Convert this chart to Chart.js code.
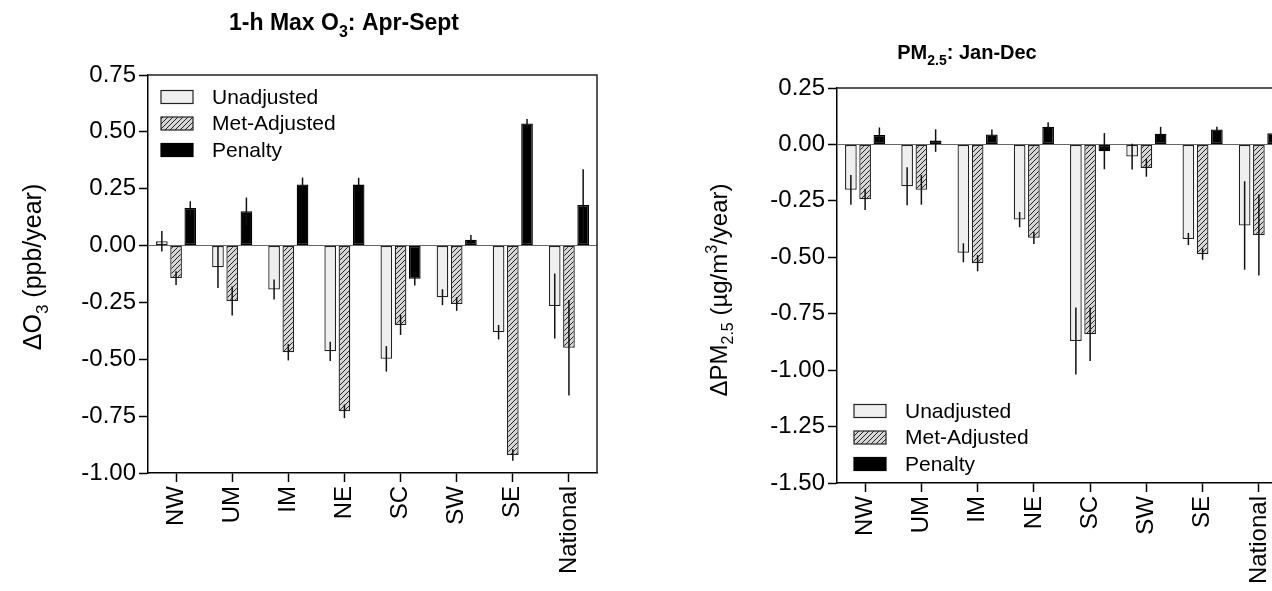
<!DOCTYPE html>
<html lang="en">
<head>
  <meta charset="UTF-8" />
  <title>O3 and PM2.5 trends by region</title>
  <script src="https://cdn.jsdelivr.net/npm/chart.js@4.4.0/dist/chart.umd.min.js"></script>
  <style>
    body {
      margin: 0;
      width: 1272px;
      height: 591px;
      overflow: hidden;
      position: relative;
      background: #fff;
    }
    .panel { position: absolute; top: 0; }
    #o3Panel { left: 0; }
    #pmPanel { left: 680px; }
  </style>
</head>
<body>
  <div class="panel" id="o3Panel"><canvas id="o3Chart" width="640" height="591"></canvas></div>
  <div class="panel" id="pmPanel"><canvas id="pmChart" width="700" height="591"></canvas></div>

  <script>
    const regions = ["NW", "UM", "IM", "NE", "SC", "SW", "SE", "National"];
    const seriesNames = ["Unadjusted", "Met-Adjusted", "Penalty"];

    // 1-h max O3, Apr-Sept (ppb/year)
    const o3Unadj    = [0.019, -0.095, -0.193, -0.465, -0.498, -0.227, -0.381, -0.266];
    const o3UnadjErr = [0.045, 0.092, 0.044, 0.042, 0.056, 0.035, 0.032, 0.143];
    const o3Met      = [-0.143, -0.244, -0.469, -0.729, -0.349, -0.257, -0.921, -0.449];
    const o3MetErr   = [0.030, 0.064, 0.036, 0.030, 0.044, 0.030, 0.025, 0.210];
    const o3Pen      = [0.165, 0.151, 0.269, 0.268, -0.146, 0.026, 0.537, 0.178];
    const o3PenErr   = [0.030, 0.060, 0.030, 0.030, 0.030, 0.020, 0.020, 0.158];

    // PM2.5, Jan-Dec (ug/m3/year)
    const pmUnadj    = [-0.201, -0.185, -0.480, -0.333, -0.871, -0.054, -0.419, -0.359];
    const pmUnadjErr = [0.066, 0.084, 0.042, 0.034, 0.148, 0.057, 0.027, 0.196];
    const pmMet      = [-0.243, -0.201, -0.526, -0.414, -0.841, -0.104, -0.486, -0.401];
    const pmMetErr   = [0.047, 0.066, 0.036, 0.027, 0.118, 0.039, 0.025, 0.180];
    const pmPen      = [0.042, 0.017, 0.044, 0.078, -0.030, 0.047, 0.066, 0.050];
    const pmPenErr   = [0.033, 0.050, 0.022, 0.020, 0.080, 0.031, 0.012, 0.020];

    const FONT = '"Liberation Sans", Arial, sans-serif';

    // diagonal hatch for the met-adjusted bars
    function hatch() {
      const c = document.createElement("canvas");
      c.width = 5; c.height = 5;
      const g = c.getContext("2d");
      g.fillStyle = "#d6d6d6";
      g.fillRect(0, 0, 5, 5);
      g.strokeStyle = "#222";
      g.lineWidth = 1;
      g.beginPath();
      g.moveTo(-1, 6); g.lineTo(6, -1);
      g.moveTo(-3.5, 3.5); g.lineTo(3.5, -3.5);
      g.moveTo(1.5, 8.5); g.lineTo(8.5, 1.5);
      g.stroke();
      return g.createPattern(c, "repeat");
    }

    function drawRich(ctx, parts, x, y, size, bold, rotate) {
      const w = bold ? "bold " : "";
      const big = w + size + "px " + FONT;
      const small = w + Math.round(size * 0.68) + "px " + FONT;
      let total = 0;
      parts.forEach(p => { ctx.font = p[1] ? small : big; total += ctx.measureText(p[0]).width; });
      ctx.save();
      ctx.translate(x, y);
      if (rotate) ctx.rotate(-Math.PI / 2);
      ctx.fillStyle = "#000";
      ctx.textAlign = "left";
      ctx.textBaseline = "alphabetic";
      let cx = -total / 2;
      const base = size * 0.36;
      parts.forEach(p => {
        ctx.font = p[1] ? small : big;
        const dy = p[1] === "sub" ? size * 0.28 : p[1] === "sup" ? -size * 0.42 : 0;
        ctx.fillText(p[0], cx, base + dy);
        cx += ctx.measureText(p[0]).width;
      });
      ctx.restore();
    }

    // titles and axis titles, canvas coordinates
    const texts = {
      o3Chart: [
        { parts: [["1-h Max O"], ["3", "sub"], [": Apr-Sept"]], x: 344, y: 22, size: 23, bold: true },
        { parts: [["\u0394O"], ["3", "sub"], [" (ppb/year)"]], x: 32, y: 267, size: 25, rotate: true }
      ],
      pmChart: [
        { parts: [["PM"], ["2.5", "sub"], [": Jan-Dec"]], x: 287, y: 52, size: 20, bold: true },
        { parts: [["\u0394PM"], ["2.5", "sub"], [" (\u00b5g/m"], ["3", "sup"], ["/year)"]], x: 38, y: 290, size: 24, rotate: true }
      ]
    };

    const frame = {
      id: "frame",
      afterDraw(chart) {
        const { ctx, chartArea: a } = chart;
        ctx.save();
        ctx.strokeStyle = "#222";
        ctx.lineWidth = 1.5;
        ctx.beginPath();
        ctx.moveTo(a.left, a.top);
        ctx.lineTo(a.right, a.top);
        ctx.lineTo(a.right, a.bottom);
        ctx.stroke();
        ctx.restore();
        (texts[chart.canvas.id] || []).forEach(t =>
          drawRich(ctx, t.parts, t.x, t.y, t.size, t.bold, t.rotate));
      }
    };

    const errorBars = {
      id: "errorBars",
      afterDatasetsDraw(chart) {
        const { ctx } = chart;
        const y = chart.scales.y;
        ctx.save();
        ctx.strokeStyle = "#111";
        ctx.lineWidth = 1.5;
        chart.data.datasets.forEach((ds, i) => {
          chart.getDatasetMeta(i).data.forEach((bar, j) => {
            const v = ds.data[j], e = ds.errors[j];
            ctx.beginPath();
            ctx.moveTo(bar.x, y.getPixelForValue(v + e));
            ctx.lineTo(bar.x, y.getPixelForValue(v - e));
            ctx.stroke();
          });
        });
        ctx.restore();
      }
    };

    const boxLegend = {
      id: "boxLegend",
      afterDraw(chart, args, opts) {
        const { ctx, chartArea: a } = chart;
        const x0 = a.left + opts.dx;
        const y0 = opts.fromBottom ? a.bottom - opts.dy : a.top + opts.dy;
        ctx.save();
        ctx.font = "21px " + FONT;
        ctx.textBaseline = "middle";
        ctx.fillStyle = "#000";
        chart.data.datasets.forEach((ds, i) => {
          const yc = y0 + i * 26.5;
          ctx.fillStyle = ds.backgroundColor;
          ctx.fillRect(x0, yc - 6.5, 32, 13);
          ctx.strokeStyle = ds.borderColor;
          ctx.lineWidth = 1.2;
          ctx.strokeRect(x0, yc - 6.5, 32, 13);
          ctx.fillStyle = "#000";
          ctx.fillText(ds.label, x0 + 51, yc + 1);
        });
        ctx.restore();
      }
    };

    function makeChart(id, vals, errs, o) {
      const fills = ["#efefef", hatch(), "#000"];
      const datasets = seriesNames.map((name, i) => ({
        label: name,
        data: vals[i],
        errors: errs[i],
        backgroundColor: fills[i],
        borderColor: i === 2 ? "#000" : "#222",
        borderWidth: 1.3,
        borderSkipped: false,
        categoryPercentage: 0.76,
        barPercentage: 0.82
      }));
      const tickFont = { family: FONT, size: 24 };
      return new Chart(document.getElementById(id), {
        type: "bar",
        data: { labels: regions, datasets },
        options: {
          responsive: false,
          animation: false,
          layout: { padding: { top: o.top, right: o.right, left: 0, bottom: 0 } },
          plugins: {
            legend: { display: false },
            tooltip: { enabled: false },
            boxLegend: o.legend
          },
          scales: {
            x: {
              grid: { offset: false, drawOnChartArea: false, tickLength: 9, tickColor: "#000", tickWidth: 1.5 },
              border: { color: "#000", width: 1.5 },
              ticks: { color: "#000", font: tickFont, maxRotation: 90, minRotation: 90, autoSkip: false, padding: 4 },
              afterFit: s => { s.height = o.xHeight; }
            },
            y: {
              min: o.min,
              max: o.max,
              grid: {
                color: c => (c.tick && Math.abs(c.tick.value) < 1e-9) ? "#666" : "rgba(0,0,0,0)",
                tickColor: "#000",
                tickLength: 9,
                tickWidth: 1.5
              },
              border: { color: "#000", width: 1.5 },
              ticks: { color: "#000", font: tickFont, stepSize: 0.25, padding: 3, callback: v => v.toFixed(2) },
              afterFit: s => { s.width = o.yWidth; }
            }
          }
        },
        plugins: [errorBars, boxLegend, frame]
      });
    }

    makeChart("o3Chart",
      [o3Unadj, o3Met, o3Pen], [o3UnadjErr, o3MetErr, o3PenErr],
      { top: 75, right: 43, yWidth: 148, xHeight: 118, min: -1, max: 0.75,
        legend: { dx: 13, dy: 22, fromBottom: false } });

    makeChart("pmChart",
      [pmUnadj, pmMet, pmPen], [pmUnadjErr, pmMetErr, pmPenErr],
      { top: 88, right: 93, yWidth: 157, xHeight: 108, min: -1.5, max: 0.25,
        legend: { dx: 17, dy: 72, fromBottom: true } });
  </script>
</body>
</html>
